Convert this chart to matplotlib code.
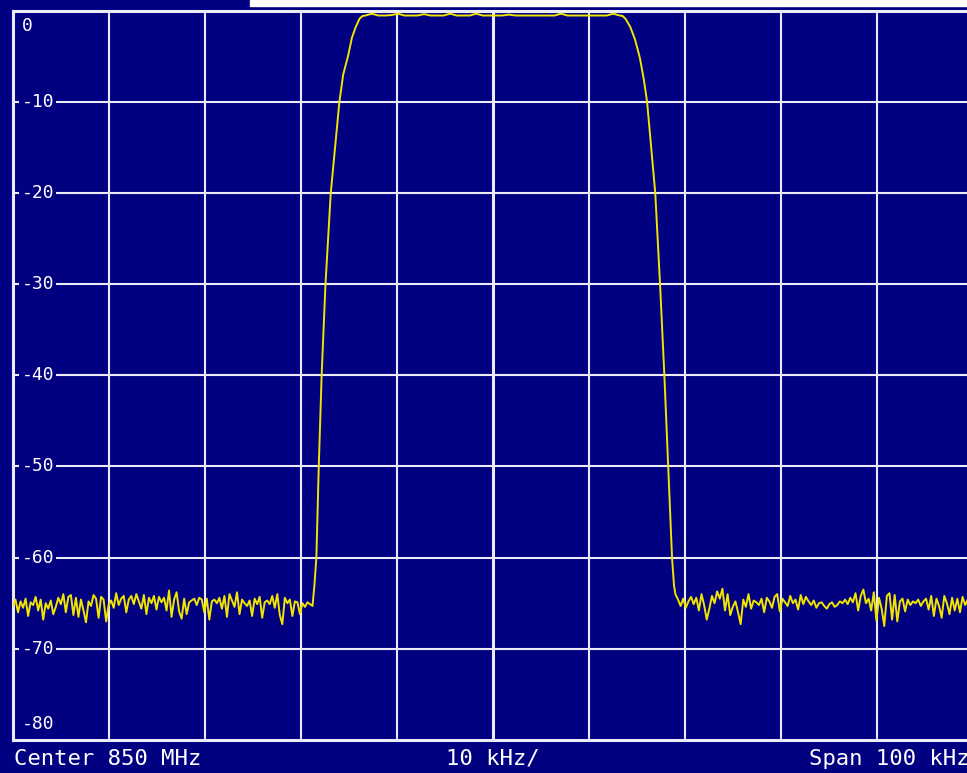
import numpy as np
import matplotlib
matplotlib.use('Agg')
import matplotlib.pyplot as plt
from matplotlib.patches import Rectangle

# screen colours
navy = '#000080'
grid_col = '#eaeaf8'
trace_col = '#f0e400'

# frequency offset from centre, kHz (10 kHz/div, span 100 kHz)
f_lo, f_hi = -50, 50
level_ticks = [0, -10, -20, -30, -40, -50, -60, -70, -80]

# noise floor left of the passband (dB)
noise_left = [-65.3, -64.6, -66.0, -64.8, -65.5, -64.5, -66.4, -64.9, -65.2, -64.3,
              -65.8, -64.6, -66.8, -65.0, -65.6, -64.7, -66.2, -65.4, -64.4, -65.1,
              -64.0, -66.0, -64.3, -64.1, -66.3, -64.4, -66.5, -64.6, -65.8, -67.1,
              -64.8, -65.3, -64.1, -64.5, -66.6, -64.3, -64.6, -67.0, -65.2, -64.7,
              -65.5, -63.9, -65.2, -64.5, -64.2, -66.0, -64.6, -64.2, -65.1, -64.0,
              -64.8, -65.6, -64.1, -66.2, -64.4, -65.0, -64.2, -65.7, -64.3, -64.9,
              -64.4, -65.8, -63.6, -66.5, -64.6, -63.8, -65.9, -66.7, -64.5, -66.2,
              -64.9, -64.7, -64.5, -65.2, -64.4, -64.6, -66.0, -64.5, -66.8, -64.8,
              -64.6, -65.0, -64.4, -65.6, -64.2, -66.5, -64.0, -64.7, -65.4, -63.8,
              -66.2, -64.6, -65.0, -65.3, -64.7, -66.4, -64.5, -65.1, -64.3, -66.6,
              -64.9, -64.7, -65.1, -64.2, -65.5, -64.0, -66.3, -67.3, -64.4, -65.0,
              -64.6, -66.4, -64.8, -64.9, -66.2, -65.0, -65.4, -64.9, -65.1, -65.3]
noise_left_end = -18.8

# rising filter skirt (kHz, dB)
rise_f = [-18.6, -18.4, -18.15, -17.85, -17.45, -16.9, -16.0, -15.6, -15.1, -14.7, -14.3, -13.9, -13.6]
rise_db = [-63.0, -60.0, -50.0, -40.0, -30.0, -20.0, -10.0, -7.0, -5.0, -3.0, -1.8, -0.9, -0.6]

# passband top
top_db = [-0.55, -0.35, -0.55, -0.55, -0.5, -0.35, -0.55, -0.55, -0.55, -0.4,
          -0.55, -0.55, -0.55, -0.35, -0.55, -0.55, -0.55, -0.35, -0.55, -0.55,
          -0.55, -0.55, -0.45, -0.55, -0.55, -0.55, -0.55, -0.55, -0.55, -0.55,
          -0.35, -0.55, -0.55, -0.55, -0.55, -0.55, -0.55, -0.55, -0.35, -0.55]
top_start, top_end = -13.3, 13.2

# falling filter skirt (kHz, dB)
fall_f = [13.5, 13.8, 14.3, 14.8, 15.3, 15.7, 16.05, 16.9, 17.4, 17.85, 18.25, 18.65, 18.85]
fall_db = [-0.6, -0.9, -1.8, -3.2, -5.2, -7.5, -10.0, -20.0, -30.0, -40.0, -50.0, -60.0, -63.0]

# noise floor right of the passband (dB)
noise_right = [-64.0, -64.6, -65.3, -64.5, -65.5, -64.8, -64.3, -65.1, -64.4, -65.8,
               -64.0, -65.2, -66.8, -65.6, -64.2, -65.0, -63.7, -64.5, -63.4, -65.8,
               -64.0, -66.3, -65.4, -64.8, -66.0, -67.3, -64.6, -65.4, -64.0, -65.6,
               -64.7, -64.9, -65.2, -64.5, -66.0, -64.4, -64.8, -65.5, -64.3, -64.0,
               -65.9, -64.5, -64.9, -65.3, -64.2, -65.0, -64.6, -65.7, -64.1, -65.1,
               -64.3, -64.8, -65.2, -64.7, -65.5, -65.0, -64.9, -65.3, -65.6, -65.1,
               -64.9, -65.4, -65.2, -64.8, -65.0, -64.6, -65.1, -64.4, -64.9, -63.9,
               -65.8, -64.2, -63.5, -65.0, -64.5, -65.8, -63.8, -66.9, -64.4, -65.6,
               -67.5, -64.2, -63.9, -66.8, -64.1, -67.0, -64.8, -64.5, -65.9, -64.6,
               -65.2, -64.8, -65.0, -64.6, -65.3, -64.8, -64.5, -65.7, -64.2, -66.4,
               -64.5, -65.3, -66.6, -64.2, -65.0, -66.2, -64.4, -65.8, -64.5, -66.0,
               -64.3, -65.2, -64.6, -64.4, -65.5]
noise_right_start = 19.0

freq = np.concatenate([
    np.linspace(f_lo, noise_left_end, len(noise_left)),
    rise_f,
    np.linspace(top_start, top_end, len(top_db)),
    fall_f,
    np.linspace(noise_right_start, f_hi, len(noise_right)),
])
level = np.concatenate([noise_left, rise_db, top_db, fall_db, noise_right])

W, H = 967, 773
fig = plt.figure(figsize=(W / 100, H / 100), dpi=100, facecolor=navy)
ax = fig.add_axes([13 / W, 1 - 740 / H, 960 / W, (740 - 10.5) / H])
ax.set_facecolor(navy)
ax.set_xlim(f_lo, f_hi)
ax.set_ylim(-80, 0)

# graticule
for fx in range(-40, 50, 10):
    ax.axvline(fx, color=grid_col, lw=2.2 if fx == 0 else 1.5, zorder=1)
for ly in level_ticks[1:-1]:
    ax.axhline(ly, color=grid_col, lw=1.5, zorder=1)
for s in ax.spines.values():
    s.set_color(grid_col)
    s.set_linewidth(2.2)
ax.set_xticks([])
ax.set_yticks([])

ax.plot(freq, level, color=trace_col, lw=1.4, zorder=3, clip_on=True)

# level labels inside the screen
mono = 'DejaVu Sans Mono'
for ly in level_ticks:
    if ly == 0:
        yy = ly - 1.7
    elif ly == -80:
        yy = ly + 1.7
    else:
        yy = ly
    ax.text(0.009, yy, str(ly), transform=ax.get_yaxis_transform(), ha='left', va='center',
            color='white', family=mono, fontsize=13, zorder=4,
            bbox=dict(boxstyle='square,pad=0.12', fc=navy, ec='none'))

# annotation row under the screen (the span text runs off the right edge, as on the screen)
ty = 1 - 759 / H
fig.text(14 / W, ty, 'Center 850 MHz', color='white', family=mono, fontsize=16,
         ha='left', va='center')
fig.text(493 / W, ty, '10 kHz/', color='white', family=mono, fontsize=16,
         ha='center', va='center')
fig.text(809 / W, ty, 'Span 100 kHz', color='white', family=mono, fontsize=16,
         ha='left', va='center')

# white strip along the top edge of the screenshot
fig.patches.append(Rectangle((250 / W, 1 - 6 / H), 1, 6 / H, transform=fig.transFigure,
                             color='white', zorder=0))

fig.savefig('out.png', dpi=100, facecolor=navy)
